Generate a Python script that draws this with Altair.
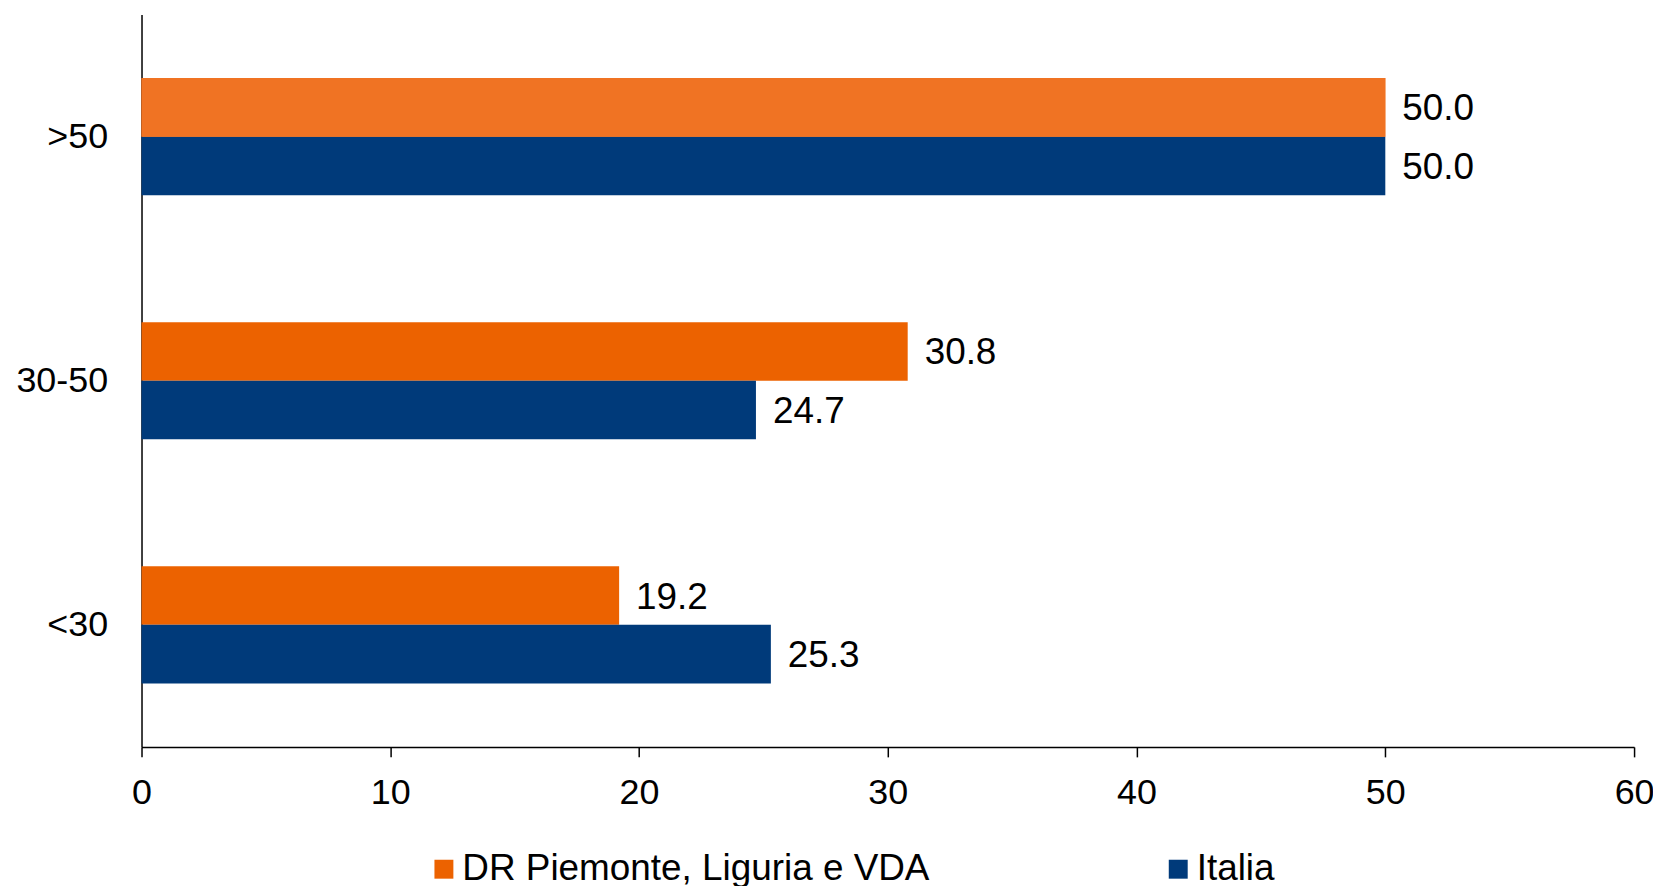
import altair as alt
import pandas as pd

categories = [">50", "30-50", "<30"]
series_names = ["DR Piemonte, Liguria e VDA", "Italia"]
dr_values = [50.0, 30.8, 19.2]
italia_values = [50.0, 24.7, 25.3]
x_ticks = [0, 10, 20, 30, 40, 50, 60]

rows = []
for c, v in zip(categories, dr_values):
    rows.append({"cat": c, "series": series_names[0], "value": v})
for c, v in zip(categories, italia_values):
    rows.append({"cat": c, "series": series_names[1], "value": v})
df = pd.DataFrame(rows)

FONT = "Liberation Sans"

y_enc = alt.Y("cat:N", sort=categories, title=None,
              scale=alt.Scale(paddingInner=0.52, paddingOuter=0.26),
              axis=alt.Axis(ticks=False, labelPadding=34, labelFontSize=36,
                            labelFont=FONT, labelColor="#000000",
                            domainColor="#000000", domainWidth=1.5))
yoff = alt.YOffset("series:N", sort=series_names)
x_enc = alt.X("value:Q", title=None,
              scale=alt.Scale(domain=[0, 60], nice=False),
              axis=alt.Axis(values=x_ticks, grid=False, tickSize=10, tickWidth=1.5,
                            tickColor="#000000", domainColor="#000000", domainWidth=1.5,
                            labelFontSize=36, labelFont=FONT, labelColor="#000000",
                            labelPadding=19, labelFlush=False, format="d"))

color_enc = alt.Color("series:N",
                      scale=alt.Scale(domain=series_names, range=["#EC6200", "#003A7A"]),
                      legend=alt.Legend(title=None, orient="none", legendX=285, legendY=839,
                                        direction="horizontal", columns=2,
                                        symbolType="square", symbolSize=361,
                                        symbolStrokeWidth=0, symbolOffset=0,
                                        labelFontSize=37, labelFont=FONT,
                                        labelColor="#000000", labelOffset=0,
                                        labelLimit=0, columnPadding=231))

base = alt.Chart(df)

bars = base.mark_bar().encode(y=y_enc, yOffset=yoff, x=x_enc, color=color_enc)

highlight = base.transform_filter(
    (alt.datum.cat == ">50") & (alt.datum.series == series_names[0])
).mark_bar(color="#F07323").encode(y=y_enc, yOffset=yoff, x=x_enc)

labels = base.mark_text(align="left", baseline="middle", dx=17, dy=2, fontSize=37,
                        font=FONT, color="#000000").encode(
    y=y_enc, yOffset=yoff, x=x_enc, text=alt.Text("value:Q", format=".1f"))

chart = alt.layer(bars, highlight, labels).properties(
    width=1498, height=735,
    autosize=alt.AutoSizeParams(type="none"),
    padding={"left": 134, "top": 5, "right": 19, "bottom": 138},
).configure_view(stroke=None).configure_axis(labelFontWeight="normal")

chart.save("out.html", embed_options={"renderer": "svg", "actions": False})
